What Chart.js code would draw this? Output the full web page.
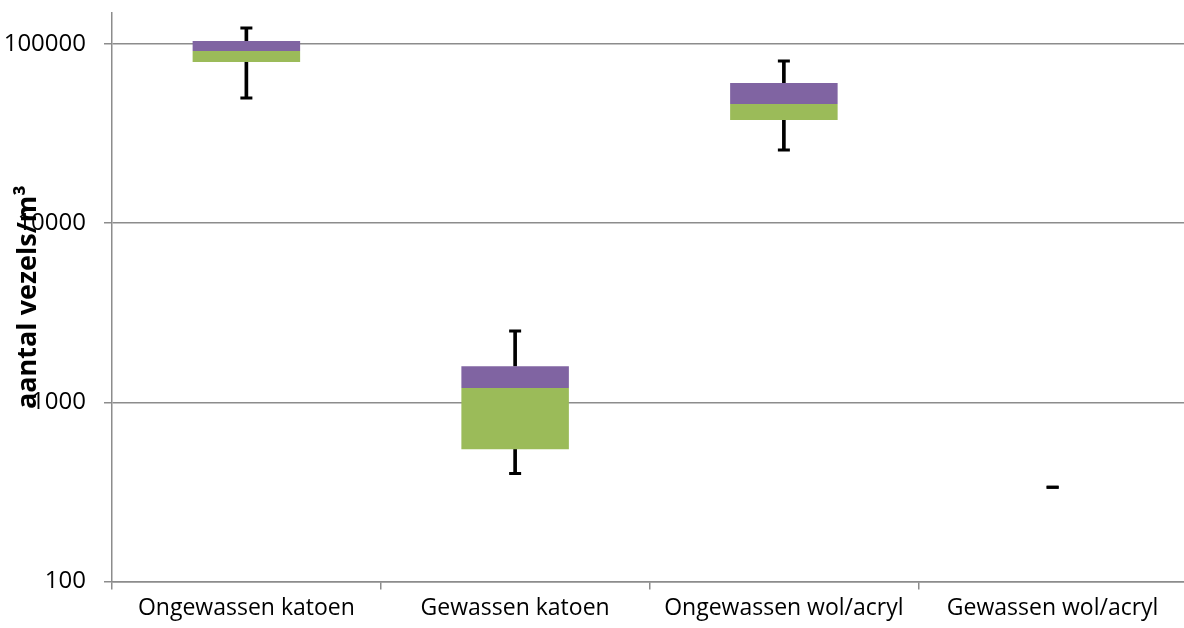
<!DOCTYPE html>
<html>
<head>
<meta charset="utf-8">
<script src="https://cdn.jsdelivr.net/npm/chart.js@4/dist/chart.umd.min.js"></script>
<style>
  html, body { margin: 0; padding: 0; background: #fff; overflow: hidden; }
  #wrap { width: 1196px; height: 628px; position: relative; }
</style>
</head>
<body>
<div id="wrap"><canvas id="boxChart"></canvas></div>
<script>
// Box plot data (fibres per m3)
const categories = ['Ongewassen katoen', 'Gewassen katoen', 'Ongewassen wol/acryl', 'Gewassen wol/acryl'];
const minVals = [50000, 400, 25600, 335];
const q1Vals = [79300, 546, 37600, null];
const medianVals = [91400, 1200, 46200, null];
const q3Vals = [104000, 1590, 60500, null];
const maxVals = [123000, 2500, 80300, 335];
const yTicks = [100, 1000, 10000, 100000];

// Build floating ranges for the chart
const lowerBox = q1Vals.map((q, i) => q == null ? null : [q, medianVals[i]]);
const upperBox = q3Vals.map((q, i) => q == null ? null : [medianVals[i], q]);
const lowerWhisker = q1Vals.map((q, i) => q == null ? null : [minVals[i], q]);
const upperWhisker = q3Vals.map((q, i) => q == null ? null : [q, maxVals[i]]);

const font = "'Open Sans', 'DejaVu Sans', sans-serif";

new Chart(document.getElementById('boxChart'), {
  data: {
    labels: categories,
    datasets: [
      {
        type: 'bar', data: lowerWhisker, backgroundColor: '#000',
        barThickness: 3, grouped: false, order: 3
      },
      {
        type: 'bar', data: upperWhisker, backgroundColor: '#000',
        barThickness: 3, grouped: false, order: 3
      },
      {
        type: 'bar', data: lowerBox, backgroundColor: '#9BBB59',
        barPercentage: 0.4, categoryPercentage: 1, grouped: false, order: 2
      },
      {
        type: 'bar', data: upperBox, backgroundColor: '#8064A2',
        barPercentage: 0.4, categoryPercentage: 1, grouped: false, order: 2
      },
      {
        type: 'line', data: minVals, showLine: false, pointStyle: 'line',
        pointRadius: 6, pointBorderWidth: 3, pointBorderColor: '#000', order: 1
      },
      {
        type: 'line', data: maxVals, showLine: false, pointStyle: 'line',
        pointRadius: 6, pointBorderWidth: 3, pointBorderColor: '#000', order: 1
      }
    ]
  },
  options: {
    responsive: true,
    maintainAspectRatio: false,
    animation: false,
    layout: { padding: { top: 13, bottom: 1, left: 0, right: 0 } },
    plugins: {
      legend: { display: false },
      tooltip: { enabled: false }
    },
    scales: {
      x: {
        offset: true,
        afterFit: (scale) => { scale.paddingLeft = 0; scale.paddingRight = 0; },
        grid: {
          offset: true,
          drawOnChartArea: false,
          drawTicks: true,
          tickLength: 8,
          color: '#8c8c8c',
          lineWidth: 1.5
        },
        border: { color: '#8c8c8c', width: 1.5 },
        ticks: { color: '#000', font: { family: font, size: 23 }, padding: 5, maxRotation: 0 }
      },
      y: {
        type: 'logarithmic',
        min: 100,
        max: 149000,
        afterBuildTicks: (scale) => { scale.ticks = yTicks.map(v => ({ value: v })); },
        afterFit: (scale) => {
          scale.width = 112;
          scale.paddingTop = 0;
          scale.paddingBottom = 0;
        },
        grid: { color: '#8c8c8c', lineWidth: 1.5, tickLength: 8 },
        border: { color: '#8c8c8c', width: 1.5 },
        ticks: {
          color: '#000',
          font: { family: font, size: 24 },
          padding: 18,
          callback: (v) => String(v)
        },
        title: {
          display: true,
          text: 'aantal vezels/m³',
          color: '#000',
          font: { family: font, size: 27, weight: 'bold' },
          padding: { top: 12, bottom: 0 }
        }
      }
    }
  }
});
</script>
</body>
</html>
